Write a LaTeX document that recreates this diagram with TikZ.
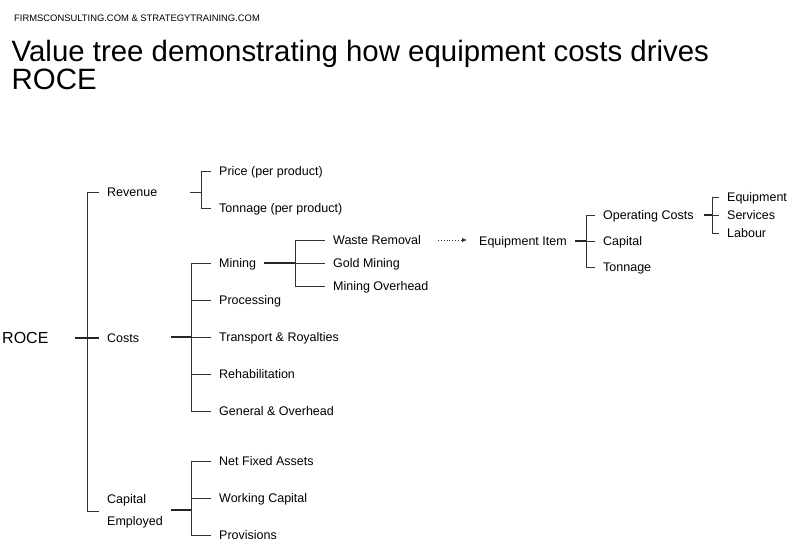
\documentclass[tikz,border=0pt]{standalone}
\usepackage{fontspec}
\setmainfont{Liberation Sans}
\usetikzlibrary{arrows.meta,positioning,calc}
\tikzset{
  lbl/.style={anchor=west, inner xsep=8pt, inner ysep=1pt, font=\fontsize{12.5}{22}\selectfont},
  item/.style={lbl, text height=9pt, text depth=0pt},
  leg/.style={line width=1pt, black!80},
  stub/.style={line width=1.5pt, black!85},
  link/.style={dotted, line width=0.8pt, black!80, -{Latex[length=5pt,width=4.5pt]}},
}

\begin{document}
\begin{tikzpicture}[x=1pt,y=-1pt]
\useasboundingbox (0,0) rectangle (792,555);
\node[anchor=west, inner sep=0pt, font=\fontsize{9.4}{11}\selectfont] (src) at (14,18.5) {FIRMSCONSULTING.COM \& STRATEGYTRAINING.COM};
\node[anchor=north west, inner sep=0pt, align=left, font=\fontsize{29.4}{28}\selectfont] (title) at (11.5,39.5) {Value tree demonstrating how equipment costs drives\\ROCE};

% root
\node[anchor=west, inner sep=0pt, text height=11.5pt, text depth=0pt, font=\fontsize{16}{18}\selectfont] (roce) at (2,338) {ROCE};
% first level
\node[item] (rev) at (99,192) {Revenue};
\node[item] (costs) at (99,338) {Costs};
\node[lbl, align=left] (cap) at (99,511) {Capital\\Employed};
\coordinate (h0) at (75,338);
\coordinate (s0) at (87,338);
\draw[leg] (s0 |- rev.west) -- (s0 |- cap.west);
\foreach \c in {rev,cap} \draw[leg] (s0 |- \c.west) -- (\c.west);
\draw[stub] (h0) -- (costs.west);

% revenue
\node[item] (price) at (211,171) {Price (per product)};
\node[item] (ton) at (211,208) {Tonnage (per product)};
\coordinate (h1) at (190,192);
\coordinate (s1) at (201,192);
\draw[leg] (s1 |- price.west) -- (s1 |- ton.west);
\foreach \c in {price,ton} \draw[leg] (s1 |- \c.west) -- (\c.west);
\draw[leg] (h1) -- (s1);

% costs
\foreach \n/\y/\t in {mining/263/Mining, proc/300/Processing, trans/337/Transport \& Royalties, rehab/374/Rehabilitation, gen/411/General \& Overhead}
  \node[item] (\n) at (211,\y) {\t};
\coordinate (h2) at (171,337);
\coordinate (s2) at (191,337);
\draw[leg] (s2 |- mining.west) -- (s2 |- gen.west);
\foreach \c in {mining,proc,trans,rehab,gen} \draw[leg] (s2 |- \c.west) -- (\c.west);
\draw[stub] (h2) -- (s2);

% capital employed
\foreach \n/\y/\t in {nfa/461/Net Fixed Assets, wc/498/Working Capital, prov/535/Provisions}
  \node[item] (\n) at (211,\y) {\t};
\coordinate (h3) at (171,510);
\coordinate (s3) at (191,510);
\draw[leg] (s3 |- nfa.west) -- (s3 |- prov.west);
\foreach \c in {nfa,wc,prov} \draw[leg] (s3 |- \c.west) -- (\c.west);
\draw[stub] (h3) -- (s3);

% mining
\foreach \n/\y/\t in {waste/240/Waste Removal, gold/263/Gold Mining, mohd/286/Mining Overhead}
  \node[item] (\n) at (325,\y) {\t};
\coordinate (s4) at (295,263);
\draw[leg] (s4 |- waste.west) -- (s4 |- mohd.west);
\foreach \c in {waste,gold,mohd} \draw[leg] (s4 |- \c.west) -- (\c.west);
\draw[stub] (mining.east) -- (s4);

% equipment item
\node[item] (eqi) at (471,241) {Equipment Item};
\draw[link, shorten <=9pt, shorten >=4pt] (waste.east) -- (eqi.west |- waste.east);
\foreach \n/\y/\t in {opc/215/Operating Costs, capx/241/Capital, tonx/267/Tonnage}
  \node[item] (\n) at (595,\y) {\t};
\coordinate (s5) at (586,241);
\draw[leg] (s5 |- opc.west) -- (s5 |- tonx.west);
\foreach \c in {opc,capx,tonx} \draw[leg] (s5 |- \c.west) -- (\c.west);
\draw[stub] (eqi.east) -- (s5);

% operating costs
\foreach \n/\y/\t in {equ/197/Equipment, serv/215/Services, lab/233/Labour}
  \node[item] (\n) at (719,\y) {\t};
\coordinate (s6) at (712,215);
\draw[leg] (s6 |- equ.west) -- (s6 |- lab.west);
\foreach \c in {equ,serv,lab} \draw[leg] (s6 |- \c.west) -- (\c.west);
\draw[stub] ([xshift=2pt]opc.east) -- (s6);
\end{tikzpicture}
\end{document}
